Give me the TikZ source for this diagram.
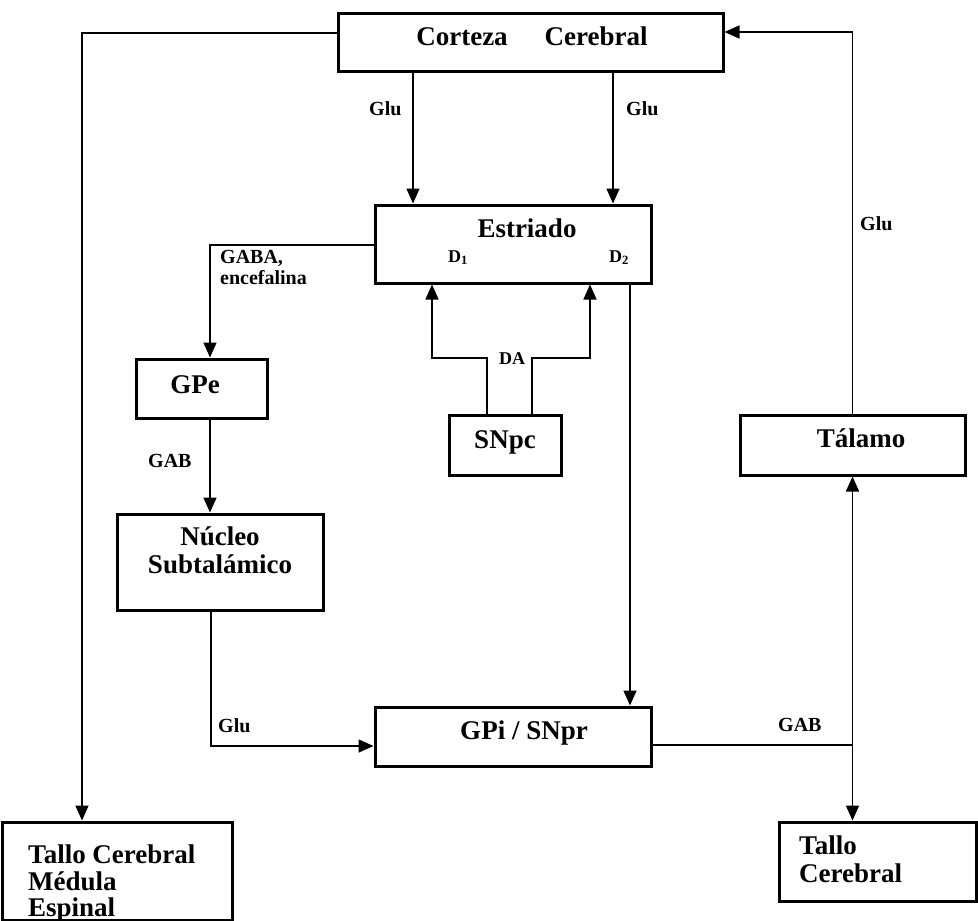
\documentclass[tikz,border=0pt]{standalone}
\usepackage{fontspec}
\setmainfont{Liberation Serif}
\usetikzlibrary{arrows.meta}
\begin{document}
\begin{tikzpicture}[x=1pt,y=-1pt,
  box/.style={draw, line width=3pt, inner sep=0pt},
  conn/.style={line width=1.6pt, -{Triangle[length=15pt,width=13pt]}},
  plain/.style={line width=1.6pt},
  big/.style={font=\fontsize{27}{30}\selectfont\bfseries, inner sep=0pt, anchor=base},
  bigl/.style={big, anchor=base west},
  small/.style={font=\fontsize{20}{22}\selectfont\bfseries, inner sep=0pt, anchor=base west},
  tiny/.style={font=\fontsize{18}{20}\selectfont\bfseries, inner sep=0pt, anchor=base west},
]
\useasboundingbox (0,0) rectangle (978,921);

% boxes
\node[box, minimum width=385pt, minimum height=58pt] (cortex) at (530.5,42) {};
\node[box, minimum width=276pt, minimum height=78pt] (estriado) at (513,244) {};
\node[box, minimum width=131pt, minimum height=59pt] (gpe) at (201.5,388.5) {};
\node[box, minimum width=206pt, minimum height=96pt] (nucleo) at (220,562) {};
\node[box, minimum width=112pt, minimum height=60pt] (snpc) at (505,445) {};
\node[box, minimum width=225pt, minimum height=60pt] (talamo) at (852.5,445) {};
\node[box, minimum width=276pt, minimum height=59pt] (gpi) at (513,736.5) {};
\node[box, minimum width=230pt, minimum height=98pt] (tallo1) at (117,871) {};
\node[box, minimum width=197pt, minimum height=79pt] (tallo2) at (878,861.5) {};

% box texts
\node[big] (tcortex) at (532,45) {Corteza\hspace{37pt}Cerebral};
\node[big] (testriado) at (527,237) {Estriado};
\node[tiny] (td1) at (448,262) {D\textsubscript{1}};
\node[tiny] (td2) at (609,262) {D\textsubscript{2}};
\node[big] (tgpe) at (195,393) {GPe};
\node[big] (tnuc1) at (220,545) {Núcleo};
\node[big] (tnuc2) at (220,573) {Subtalámico};
\node[big] (tsnpc) at (505,448) {SNpc};
\node[big] (ttal) at (861,447) {Tálamo};
\node[big] (tgpi) at (524,739) {GPi / SNpr};
\node[bigl] (tt1a) at (28,863) {Tallo Cerebral};
\node[bigl] (tt1b) at (28,890) {Médula};
\node[bigl] (tt1c) at (28,916) {Espinal};
\node[bigl] (tt2a) at (799,854) {Tallo};
\node[bigl] (tt2b) at (799,882) {Cerebral};

% connectors
\draw[conn] (cortex.west |- 0,33) -| (tallo1.north -| 82,0);
\draw[conn] (cortex.south -| 413,0) -- (estriado.north -| 413,0);
\draw[conn] (cortex.south -| 613,0) -- (estriado.north -| 613,0);
\draw[conn] (talamo.north) |- (cortex.east |- 0,32);
\draw[conn] (estriado.west |- 0,245) -| (gpe.north -| 210,0);
\draw[conn] (gpe.south -| 210,0) -- (nucleo.north -| 210,0);
\draw[conn] (snpc.north -| 487,0) |- (432,358) -- (estriado.south -| 432,0);
\draw[conn] (snpc.north -| 532,0) |- (590,358) -- (estriado.south -| 590,0);
\draw[conn] (estriado.south -| 630,0) -- (gpi.north -| 630,0);
\draw[conn] (nucleo.south -| 211,0) |- (gpi.west |- 0,746);
\coordinate (j) at (852.5,745);
\draw[plain] (gpi.east |- j) -- (j);
\draw[conn] (j) -- (talamo.south);
\draw[conn] (j) -- (tallo2.north -| j);

% connector labels
\node[small] (lglu1) at (369,115) {Glu};
\node[small] (lglu2) at (626,115) {Glu};
\node[small] (lglu3) at (860,230) {Glu};
\node[small] (lgaba) at (220,263) {GABA,};
\node[small] (lenc) at (220,284) {encefalina};
\node[small] (lgab1) at (148,467) {GAB};
\node[tiny, anchor=base] (lda) at (512,364) {DA};
\node[small] (lglu4) at (218,732) {Glu};
\node[small] (lgab2) at (778,731) {GAB};
\end{tikzpicture}
\end{document}
